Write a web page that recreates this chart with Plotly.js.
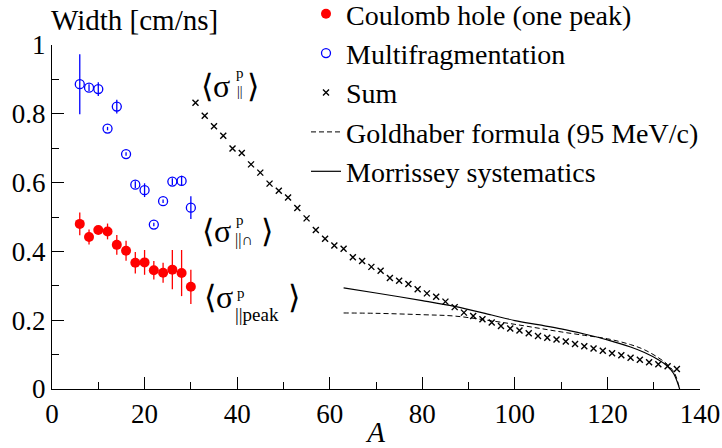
<!DOCTYPE html>
<html>
<head>
<meta charset="utf-8">
<script src="https://cdn.plot.ly/plotly-3.0.1.min.js"></script>
<style>html,body{margin:0;padding:0;background:#fff;font-family:'Liberation Serif', serif;}#chart{width:722px;height:448px;}
#chart text{font-family:'Liberation Serif', serif !important;}</style>
</head>
<body>
<div id="chart"></div>
<script>
// ---- data ----
const fragA = [6, 8, 10, 12, 14, 16, 18, 20, 22, 24, 26, 28, 30];
const coulombW = [0.480, 0.442, 0.462, 0.458, 0.419, 0.402, 0.367, 0.368, 0.345, 0.338, 0.347, 0.337, 0.297];
const coulombErr = [0.033, 0.022, 0.010, 0.023, 0.029, 0.029, 0.031, 0.036, 0.027, 0.029, 0.057, 0.067, 0.050];
const multiW = [0.886, 0.876, 0.872, 0.757, 0.821, 0.683, 0.594, 0.578, 0.478, 0.546, 0.603, 0.605, 0.527];
const multiErr = [0.087, 0.010, 0.020, 0.005, 0.020, 0.005, 0.010, 0.020, 0.005, 0.005, 0.010, 0.015, 0.033];

const sumA = [31, 33, 35, 37, 39, 41, 43, 45, 47, 49, 51, 53, 55, 57, 59, 61, 63, 65, 67, 69,
              71, 73, 75, 77, 79, 81, 83, 85, 87, 89, 91, 93, 95, 97, 99, 101, 103, 105, 107, 109,
              111, 113, 115, 117, 119, 121, 123, 125, 127, 129, 131, 133, 135];
const sumW = [0.832, 0.794, 0.764, 0.736, 0.699, 0.686, 0.653, 0.629, 0.597, 0.576, 0.557, 0.526, 0.496, 0.462, 0.437, 0.417, 0.408, 0.383, 0.372, 0.355,
              0.344, 0.323, 0.315, 0.305, 0.290, 0.278, 0.268, 0.254, 0.238, 0.222, 0.212, 0.203, 0.193, 0.183, 0.176, 0.170, 0.162, 0.154, 0.149, 0.144,
              0.138, 0.131, 0.124, 0.118, 0.111, 0.104, 0.098, 0.091, 0.085, 0.078, 0.072, 0.066, 0.058];

const goldA = [63, 70, 80, 87, 95, 100, 105, 110, 115, 120, 125, 128, 131, 133, 134.5, 135.6];
const goldW = [0.221, 0.220, 0.216, 0.212, 0.198, 0.188, 0.177, 0.166, 0.156, 0.146, 0.129, 0.114, 0.091, 0.071, 0.046, 0.0];
const morA = [63, 70, 80, 87, 95, 100, 105, 110, 115, 120, 125, 128, 131, 133, 134.3, 135.6];
const morW = [0.294, 0.279, 0.257, 0.240, 0.215, 0.199, 0.187, 0.175, 0.160, 0.143, 0.122, 0.106, 0.085, 0.066, 0.045, 0.0];

const xTicks = [0, 20, 40, 60, 80, 100, 120, 140];
const yTicks = [0, 0.2, 0.4, 0.6, 0.8, 1];
const yTickText = ["0", "0.2", "0.4", "0.6", "0.8", "1"];

const legendNames = ["Coulomb hole (one peak)", "Multifragmentation", "Sum",
                     "Goldhaber formula (95 MeV/c)", "Morrissey systematics"];

// ---- figure ----
const FONT = 'Liberation Serif';
const W = 722, H = 448, ML = 52, MR = 22, MT = 45, MB = 59;
const PW = W - ML - MR, PH = H - MT - MB;
const px2x = p => (p - ML) / PW;        // paper coords for text placement
const px2y = p => (H - MB - p) / PH;

const traces = [
  {x: fragA, y: coulombW, name: legendNames[0], type: 'scatter', mode: 'markers',
   marker: {symbol: 'circle', size: 10, color: '#ff0000'},
   error_y: {type: 'data', array: coulombErr, visible: true, color: '#ff0000', thickness: 1.3, width: 0}},
  {x: fragA, y: multiW, name: legendNames[1], type: 'scatter', mode: 'markers',
   marker: {symbol: 'circle-open', size: 9, color: '#0000ff', line: {width: 1.3}},
   error_y: {type: 'data', array: multiErr, visible: true, color: '#0000ff', thickness: 1.3, width: 0}},
  {x: sumA, y: sumW, name: legendNames[2], type: 'scatter', mode: 'markers',
   marker: {symbol: 'x-thin-open', size: 6, color: '#000', line: {width: 1.4, color: '#000'}}},
  {x: goldA, y: goldW, name: legendNames[3], type: 'scatter', mode: 'lines',
   line: {color: '#000', width: 1, dash: '5px,3px', shape: 'spline'}},
  {x: morA, y: morW, name: legendNames[4], type: 'scatter', mode: 'lines',
   line: {color: '#000', width: 1.2, shape: 'spline'}}
];

function txt(t, xp, yp, size, xanchor, yanchor) {
  return {text: t, xref: 'paper', yref: 'paper', x: px2x(xp), y: px2y(yp),
          xanchor: xanchor || 'left', yanchor: yanchor || 'middle', showarrow: false,
          borderpad: 0, font: {family: FONT, size: size, color: '#000'}};
}

const annotations = [
  txt('Width [cm/ns]', 50, 20, 29),
  // <sigma_par^p>
  txt('\u27E8\u03C3', 200, 86, 32),
  txt('p', 240, 82, 15, 'center', 'bottom'),
  txt('||', 240, 83, 14, 'center', 'top'),
  txt('\u27E9', 246, 86, 32),
  // <sigma_par-cap^p>
  txt('\u27E8\u03C3', 201, 231, 32),
  txt('p', 240, 229, 15, 'center', 'bottom'),
  txt('||\u2229', 234, 230, 16, 'left', 'top'),
  txt('\u27E9', 260, 231, 32),
  // <sigma_par-peak^p>
  txt('\u27E8\u03C3', 203, 297, 32),
  txt('p', 241, 302, 15, 'center', 'bottom'),
  txt('||peak', 234, 303, 19, 'left', 'top'),
  txt('\u27E9', 287, 297, 32)
];

const layout = {
  width: W, height: H,
  margin: {l: ML, r: MR, t: MT, b: MB, pad: 0, autoexpand: false},
  paper_bgcolor: '#fff', plot_bgcolor: '#fff',
  font: {family: FONT, size: 27, color: '#000'},
  showlegend: true,
  legend: {x: px2x(306), y: px2y(-11), xanchor: 'left', yanchor: 'top',
           bgcolor: 'rgba(0,0,0,0)', borderwidth: 0, tracegroupgap: 0,
           font: {family: FONT, size: 28, color: '#000'}},
  xaxis: {range: [0, 140], tickvals: xTicks, ticks: 'inside', ticklen: 12, tickwidth: 1.2,
          tickcolor: '#000', showline: true, linecolor: '#000', linewidth: 1.3,
          showgrid: false, zeroline: false, mirror: false, automargin: false,
          minor: {dtick: 10, tick0: 0, ticks: 'inside', ticklen: 7, tickwidth: 1.2, tickcolor: '#000', showgrid: false},
          tickfont: {family: FONT, size: 27, color: '#000'},
          title: {text: '<i>A</i>', font: {family: FONT, size: 29, color: '#000'}, standoff: 2}},
  yaxis: {range: [0, 1], tickvals: yTicks, ticktext: yTickText, ticks: 'inside', ticklen: 12, tickwidth: 1.2,
          tickcolor: '#000', showline: true, linecolor: '#000', linewidth: 1.3,
          showgrid: false, zeroline: false, mirror: false, automargin: false,
          minor: {dtick: 0.1, tick0: 0, ticks: 'inside', ticklen: 7, tickwidth: 1.2, tickcolor: '#000', showgrid: false},
          tickfont: {family: FONT, size: 27, color: '#000'}},
  annotations: annotations
};

function draw() {
  Plotly.newPlot('chart', traces, layout, {displayModeBar: false});
}
let drawn = false;
function drawOnce() { if (!drawn) { drawn = true; draw(); } }
if (document.fonts && document.fonts.load) {
  Promise.all([
    document.fonts.load('28px "Liberation Serif"'),
    document.fonts.load('italic 28px "Liberation Serif"')
  ]).then(drawOnce, drawOnce);
  setTimeout(drawOnce, 1500);
} else {
  drawOnce();
}
</script>
</body>
</html>
